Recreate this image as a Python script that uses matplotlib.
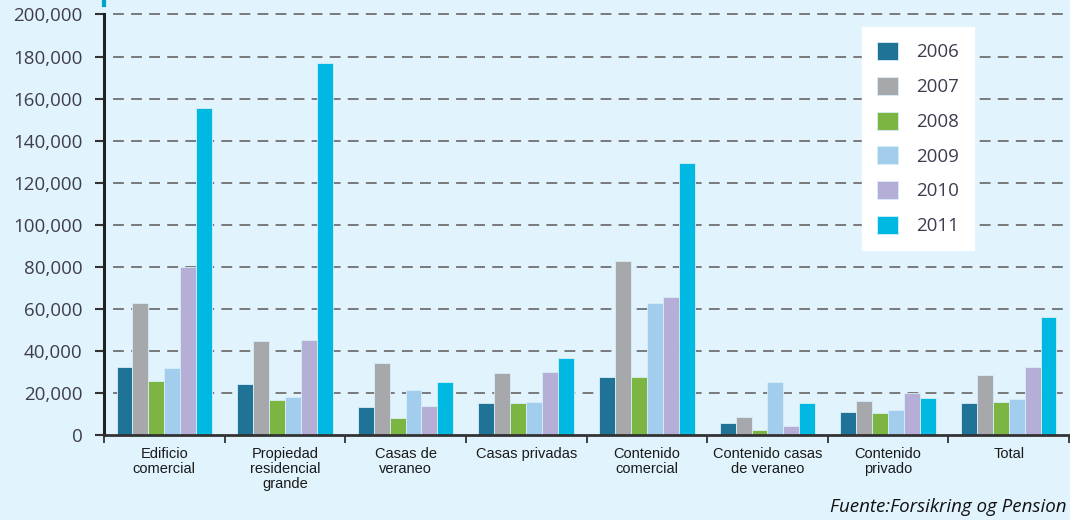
import matplotlib
matplotlib.use("Agg")
import matplotlib.pyplot as plt
import matplotlib.patches as mpatches
import matplotlib.ticker as mticker
import numpy as np

categories = [
    "Edificio\ncomercial",
    "Propiedad\nresidencial\ngrande",
    "Casas de\nveraneo",
    "Casas privadas",
    "Contenido\ncomercial",
    "Contenido casas\nde veraneo",
    "Contenido\nprivado",
    "Total",
]
years = ["2006", "2007", "2008", "2009", "2010", "2011"]

v2006 = [32500, 24300, 13300, 15400, 27800, 5700, 11000, 15200]
v2007 = [62800, 44800, 34100, 29400, 82900, 8700, 16200, 28700]
v2008 = [25700, 16800, 8300, 15400, 27500, 2400, 10300, 15600]
v2009 = [32000, 17900, 21400, 15900, 62900, 25100, 11900, 17100]
v2010 = [79700, 45200, 14000, 30000, 65700, 4100, 19800, 32400]
v2011 = [155600, 176700, 25200, 36700, 129500, 15200, 17600, 55900]

series = [v2006, v2007, v2008, v2009, v2010, v2011]
colors = ["#1F7396", "#A7A8AB", "#7CB542", "#A2CDEC", "#B5AED6", "#00B9E3"]

yticks = list(range(0, 200001, 20000))

bg = "#E1F3FD"
tick_color = "#3E3D50"

fig = plt.figure(figsize=(10.7, 5.2), dpi=100, facecolor=bg)
ax = fig.add_axes([104 / 1070, 85 / 520, 965 / 1070, 420.5 / 520])
ax.set_facecolor(bg)

x = np.arange(len(categories))
width = 0.132
for i, (vals, col) in enumerate(zip(series, colors)):
    offs = (i - 2.5) * width
    ax.bar(x + offs, vals, width, color=col, edgecolor="#D8EEF8",
           linewidth=0.6, zorder=3, label=years[i])

ax.set_xlim(-0.5, len(categories) - 0.5)
ax.set_ylim(0, 200000)
ax.set_yticks(yticks)
ax.yaxis.set_major_formatter(mticker.FuncFormatter(lambda v, p: f"{int(v):,}"))
ax.tick_params(axis="y", length=6.5, width=1.5, color="#333333", pad=9,
               labelsize=13.5, labelcolor=tick_color)
for lab in ax.get_yticklabels():
    lab.set_fontfamily("Open Sans")

for yv in yticks[1:]:
    ax.axhline(yv, color="#707070", lw=1.3, ls=(0, (6, 4)), zorder=1,
               xmin=-9 / 965, clip_on=False)

# group separators on the category axis
ax.set_xticks(np.arange(-0.5, len(categories), 1.0))
ax.set_xticklabels([])
ax.tick_params(axis="x", length=6, width=1.3, color="#333333", direction="out")
for i, cat in enumerate(categories):
    ax.text(i, -0.028, cat, transform=ax.get_xaxis_transform(), ha="center",
            va="top", fontsize=10.5, color="#1A1A1A", linespacing=1.12,
            family="Liberation Sans")

for side in ["top", "right"]:
    ax.spines[side].set_visible(False)
ax.spines["left"].set_linewidth(2.2)
ax.spines["left"].set_color("#222222")
ax.spines["bottom"].set_linewidth(2.0)
ax.spines["bottom"].set_color("#333333")
ax.spines["left"].set_zorder(4)
ax.spines["bottom"].set_zorder(4)

# small accent above the value axis
fig.add_artist(plt.Line2D([104 / 1070, 104 / 1070], [1.0, 1 - 5 / 520],
                          color="#00A3C8", lw=3, transform=fig.transFigure))

handles = [mpatches.Patch(facecolor=c, edgecolor="#D8EEF8", linewidth=0.6)
           for c in colors]
leg = fig.legend(handles, years, loc="upper left",
                 bbox_to_anchor=(862 / 1070, 1 - 27 / 520),
                 frameon=True, fancybox=False, framealpha=1,
                 facecolor="white", edgecolor="white",
                 handlelength=1.1, handleheight=1.1, handletextpad=1.0,
                 labelspacing=0.82, borderpad=0.8, borderaxespad=0,
                 prop={"family": "Open Sans", "size": 13.5})
for t in leg.get_texts():
    t.set_color(tick_color)

fig.text(1066 / 1070, 1 - 507 / 520, "Fuente:Forsikring og Pension",
         ha="right", va="center", fontsize=13.5, style="italic",
         family="Open Sans", color="#111111")

fig.savefig("out.png", dpi=100, facecolor=bg)
